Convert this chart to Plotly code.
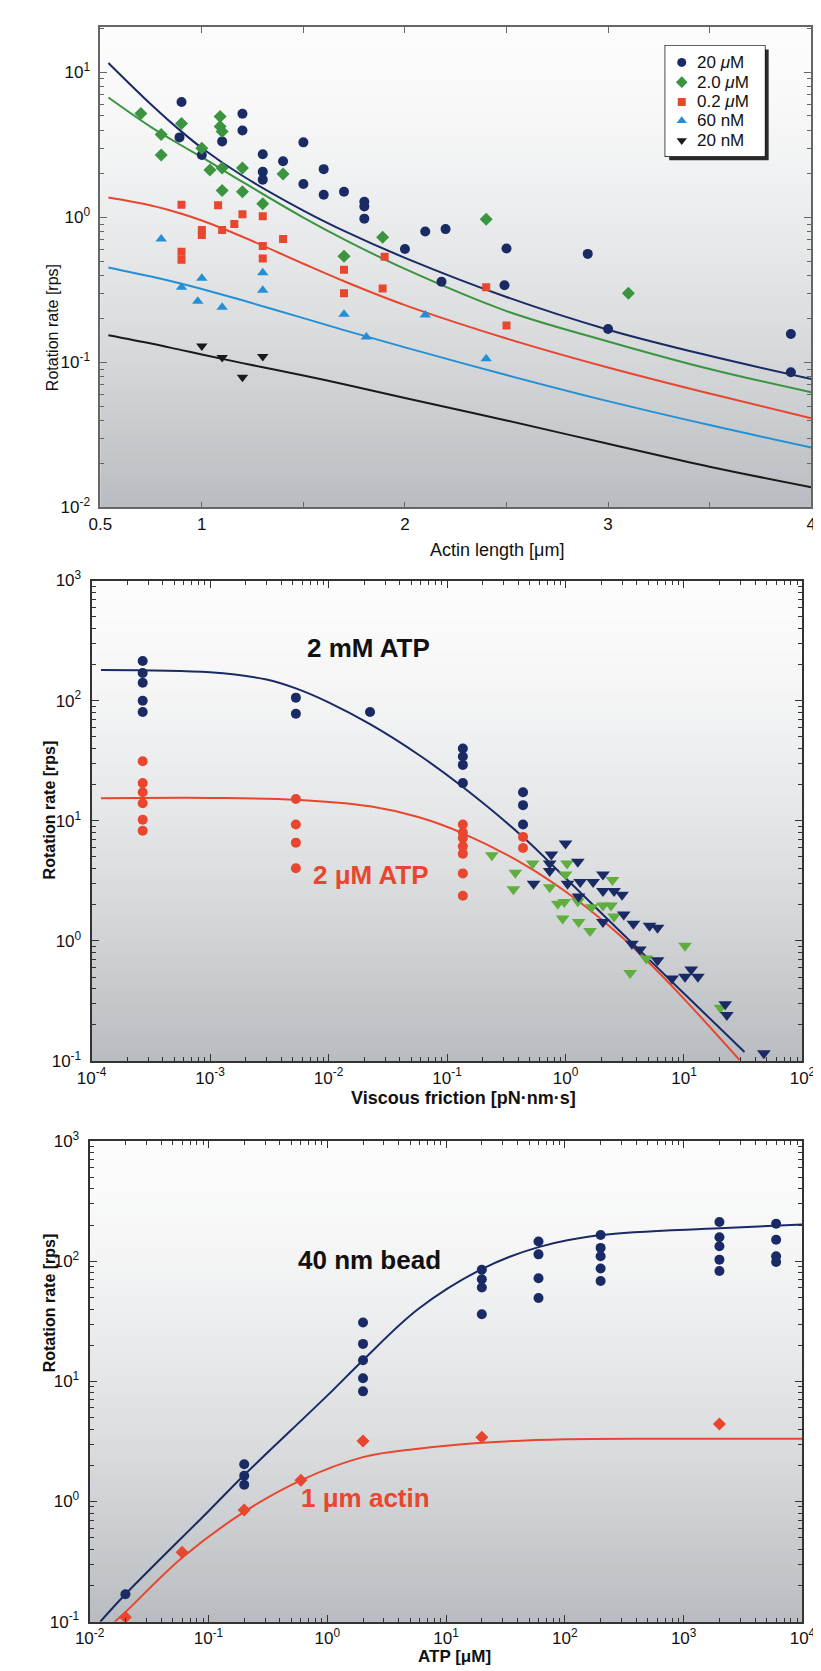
import plotly.graph_objects as go

# ---------------- Panel A: rotation rate vs actin length ----------------
len_20uM = [0.9, 0.89, 1.0, 1.1, 1.2, 1.2, 1.3, 1.3, 1.3, 1.4, 1.5, 1.5, 1.6, 1.6, 1.7, 1.8, 1.8, 1.8,
            2.0, 2.1, 2.2, 2.18, 2.5, 2.49, 2.9, 3.0, 3.9, 3.9]
rate_20uM = [6.25, 3.56, 2.69, 3.34, 5.18, 3.97, 2.72, 2.06, 1.82, 2.44, 3.29, 1.70, 2.15, 1.43, 1.50, 1.28, 1.19, 0.98,
             0.605, 0.80, 0.83, 0.36, 0.61, 0.34, 0.56, 0.17, 0.157, 0.0855]
len_2uM = [0.70, 0.80, 0.80, 0.90, 1.0, 1.04, 1.09, 1.09, 1.1, 1.1, 1.1, 1.2, 1.2, 1.3, 1.4, 1.7, 1.89, 2.4, 3.1]
rate_2uM = [5.2, 3.73, 2.69, 4.43, 3.0, 2.12, 4.95, 4.23, 3.91, 2.19, 1.53, 2.19, 1.50, 1.24, 1.99, 0.54, 0.73, 0.97, 0.30]
len_02uM = [0.9, 0.9, 0.9, 1.0, 1.0, 1.08, 1.1, 1.16, 1.2, 1.3, 1.3, 1.3, 1.4, 1.7, 1.7, 1.9, 1.89, 2.4, 2.5]
rate_02uM = [1.22, 0.58, 0.51, 0.82, 0.755, 1.21, 0.82, 0.90, 1.05, 1.02, 0.635, 0.52, 0.71, 0.435, 0.30, 0.535, 0.324, 0.33, 0.18]
len_60nM = [0.8, 0.9, 1.0, 0.98, 1.1, 1.3, 1.3, 1.7, 1.81, 2.1, 2.4]
rate_60nM = [0.71, 0.33, 0.38, 0.264, 0.24, 0.416, 0.314, 0.215, 0.15, 0.212, 0.106]
len_20nM = [1.0, 1.1, 1.3, 1.2]
rate_20nM = [0.13, 0.108, 0.11, 0.079]

fit_len = [0.54, 0.75, 0.9, 1.0, 1.2, 1.5, 1.7, 2.0, 2.5, 3.0, 3.5, 4.0]
fit_20uM = [11.59, 6.00, 3.90, 3.01, 1.936, 1.114, 0.807, 0.526, 0.2825, 0.1682, 0.1111, 0.0769]
fit_2uM = [6.70, 4.19, 3.13, 2.60, 1.757, 0.997, 0.706, 0.441, 0.226, 0.1396, 0.0901, 0.0623]
fit_02uM = [1.371, 1.209, 1.060, 0.951, 0.735, 0.479, 0.363, 0.2485, 0.1463, 0.0923, 0.0610, 0.0412]
fit_60nM = [0.452, 0.391, 0.349, 0.321, 0.268, 0.202, 0.167, 0.127, 0.0819, 0.0541, 0.0370, 0.0259]
fit_20nM = [0.154, 0.135, 0.1216, 0.1135, 0.0989, 0.0813, 0.0708, 0.0569, 0.0398, 0.0275, 0.0191, 0.0138]

legend_names = ["20 <i>μ</i>M", "2.0 <i>μ</i>M", "0.2 <i>μ</i>M", "60 nM", "20 nM"]
lenA_ticks = [0.5, 1, 1.5, 2, 2.5, 3, 3.5, 4]
lenA_labels = ["0.5", "1", "", "2", "", "3", "", "4"]

# ---------------- Panel B: rotation rate vs viscous friction ----------------
fric_2mM_beads = [2.7e-4] * 5 + [5.3e-3] * 2 + [0.0224] + [0.136] * 4 + [0.438] * 3
rate_2mM_beads = [214, 170, 141, 100, 80.6, 106, 77.8, 80.6, 40, 34.3, 29.2, 20.6, 17.3, 13.5, 9.33]
fric_2uM_beads = [2.7e-4] * 6 + [5.3e-3] * 4 + [0.136] * 7 + [0.438] * 2
rate_2uM_beads = [31.3, 20.6, 17.3, 14.0, 10.2, 8.28, 15.2, 9.33, 6.58, 4.03,
                  9.33, 8.0, 7.2, 6.13, 5.33, 3.65, 2.38, 7.35, 5.95]
fric_actin_green = [0.239, 0.377, 0.363, 0.528, 0.736, 1.03, 1.0, 0.86, 0.975, 0.946, 1.27, 1.29, 1.66, 1.61,
                    2.07, 2.42, 2.49, 2.57, 3.51, 4.81, 10.2, 20.3]
rate_actin_green = [5.18, 3.70, 2.70, 4.41, 2.80, 4.41, 3.57, 2.04, 2.11, 1.54, 2.14, 1.44, 1.91, 1.21,
                    1.97, 1.97, 3.22, 1.60, 0.541, 0.715, 0.912, 0.278]
fric_actin_navy = [1.0, 0.76, 0.735, 0.735, 0.538, 1.27, 1.04, 1.33, 1.71, 2.07, 2.07, 2.57, 3.0, 1.29, 3.10,
                   2.07, 3.74, 5.12, 5.98, 3.63, 4.24, 5.98, 7.93, 10.2, 11.5, 13.1, 22.3, 23.0, 47.2]
rate_actin_navy = [6.48, 5.25, 4.41, 3.83, 3.0, 4.57, 3.0, 3.10, 3.10, 3.57, 2.61, 2.61, 2.43, 2.35, 1.66,
                   1.44, 1.39, 1.34, 1.29, 0.946, 0.851, 0.69, 0.486, 0.504, 0.58, 0.504, 0.298, 0.242, 0.116]

fit_fric_2mM = [1.2e-4, 1e-3, 3e-3, 5.3e-3, 1e-2, 0.0224, 0.058, 0.136, 0.438, 1.0, 3.0, 10, 32.4]
fit_rate_2mM = [180, 172, 150, 126.5, 96.8, 63.7, 35.3, 19.1, 7.33, 3.34, 1.16, 0.366, 0.119]
fit_fric_2uM = [1.2e-4, 1e-3, 5.3e-3, 0.0224, 0.058, 0.136, 0.438, 1.0, 2.5, 5, 10, 29.5]
fit_rate_2uM = [15.4, 15.5, 15.0, 13.2, 10.7, 7.87, 4.39, 2.58, 1.26, 0.668, 0.33, 0.102]

# ---------------- Panel C: rotation rate vs ATP ----------------
atp_bead = [0.02, 0.2, 0.2, 0.2, 2, 2, 2, 2, 2, 20, 20, 20, 20, 60, 60, 60, 60,
            200, 200, 200, 200, 200, 2000, 2000, 2000, 2000, 2000, 6000, 6000, 6000, 6000]
rate_bead = [0.169, 2.04, 1.64, 1.38, 30.9, 20.5, 15.0, 10.6, 8.25, 85, 70.7, 60.3, 36.2, 146, 114, 72, 49.4,
             165, 129, 110, 86.8, 68.3, 212, 158, 133, 103, 82.8, 205, 151, 110, 98.4]
atp_actin = [0.02, 0.06, 0.2, 0.6, 2, 20, 2000]
rate_actin = [0.109, 0.378, 0.85, 1.50, 3.19, 3.42, 4.41]
fit_atp_bead = [0.0123, 0.02, 0.1, 0.2, 1.0, 2, 5.83, 20, 60, 200, 2000, 10000]
fit_rate_bead = [0.1, 0.169, 0.83, 1.66, 7.6, 15, 40, 86, 131, 165, 188, 202]
fit_atp_actin = [0.0163, 0.02, 0.06, 0.2, 0.6, 2, 5.83, 20, 100, 1000, 10000]
fit_rate_actin = [0.1, 0.12, 0.34, 0.82, 1.50, 2.34, 2.75, 3.08, 3.30, 3.33, 3.33]

# ---------------- styling ----------------
W, H = 821, 1671
NAVY = "#1a2a64"
GREEN = "#3a9440"
LGREEN = "#5fae3e"
RED = "#e8462e"
CYAN = "#2390d6"
BLACK = "#1a1a1a"
FONT = "Liberation Sans, Arial, Helvetica, sans-serif"


def fx(p):
    return p / W


def fy(p):
    return 1 - p / H


fig = go.Figure()

# Panel A traces
pointsA = [
    (len_20uM, rate_20uM, NAVY, "circle", 10),
    (len_2uM, rate_2uM, GREEN, "diamond", 10),
    (len_02uM, rate_02uM, RED, "square", 8),
    (len_60nM, rate_60nM, CYAN, "triangle-up", 10),
    (len_20nM, rate_20nM, BLACK, "triangle-down", 10),
]
fitsA = [fit_20uM, fit_2uM, fit_02uM, fit_60nM, fit_20nM]
for (xs, ys, col, sym, sz), fit in zip(pointsA, fitsA):
    fig.add_trace(go.Scatter(x=fit_len, y=fit, mode="lines", line=dict(color=col, width=2, shape="spline"),
                             showlegend=False, xaxis="x", yaxis="y", hoverinfo="skip"))
for (xs, ys, col, sym, sz), name in zip(pointsA, legend_names):
    fig.add_trace(go.Scatter(x=xs, y=ys, mode="markers", name=name, showlegend=False,
                             marker=dict(color=col, symbol=sym, size=sz, line=dict(width=0)),
                             xaxis="x", yaxis="y"))

# Panel A legend (drawn on its own small hidden axis, box 103 x 112 px)
LEG_L, LEG_T, LEG_W, LEG_H = 665, 26, 103, 112
leg_rows = [17, 37, 57, 76, 96]
for (xs, ys, col, sym, sz), row in zip(pointsA, leg_rows):
    fig.add_trace(go.Scatter(x=[17], y=[row], mode="markers", showlegend=False, hoverinfo="skip",
                             marker=dict(color=col, symbol=sym, size=9 if sym != "square" else 8),
                             xaxis="x4", yaxis="y4"))

# Panel B traces
fig.add_trace(go.Scatter(x=fit_fric_2mM, y=fit_rate_2mM, mode="lines", line=dict(color=NAVY, width=2, shape="spline"),
                         showlegend=False, xaxis="x2", yaxis="y2"))
fig.add_trace(go.Scatter(x=fit_fric_2uM, y=fit_rate_2uM, mode="lines", line=dict(color=RED, width=2, shape="spline"),
                         showlegend=False, xaxis="x2", yaxis="y2"))
fig.add_trace(go.Scatter(x=fric_actin_green, y=rate_actin_green, mode="markers",
                         marker=dict(color=LGREEN, symbol="triangle-down", size=12), showlegend=False,
                         xaxis="x2", yaxis="y2"))
fig.add_trace(go.Scatter(x=fric_actin_navy, y=rate_actin_navy, mode="markers",
                         marker=dict(color=NAVY, symbol="triangle-down", size=12), showlegend=False,
                         xaxis="x2", yaxis="y2"))
fig.add_trace(go.Scatter(x=fric_2mM_beads, y=rate_2mM_beads, mode="markers",
                         marker=dict(color=NAVY, symbol="circle", size=10), showlegend=False,
                         xaxis="x2", yaxis="y2"))
fig.add_trace(go.Scatter(x=fric_2uM_beads, y=rate_2uM_beads, mode="markers",
                         marker=dict(color=RED, symbol="circle", size=10), showlegend=False,
                         xaxis="x2", yaxis="y2"))

# Panel C traces
fig.add_trace(go.Scatter(x=fit_atp_bead, y=fit_rate_bead, mode="lines", line=dict(color=NAVY, width=2, shape="spline"),
                         showlegend=False, xaxis="x3", yaxis="y3"))
fig.add_trace(go.Scatter(x=fit_atp_actin, y=fit_rate_actin, mode="lines", line=dict(color=RED, width=2, shape="spline"),
                         showlegend=False, xaxis="x3", yaxis="y3"))
fig.add_trace(go.Scatter(x=atp_bead, y=rate_bead, mode="markers",
                         marker=dict(color=NAVY, symbol="circle", size=10), showlegend=False,
                         xaxis="x3", yaxis="y3"))
fig.add_trace(go.Scatter(x=atp_actin, y=rate_actin, mode="markers",
                         marker=dict(color=RED, symbol="diamond", size=10), showlegend=False,
                         xaxis="x3", yaxis="y3"))


def minor_vals(e0, e1):
    return [m * 10.0 ** e for e in range(e0, e1) for m in range(2, 10)]


def log_labels(e0, e1):
    vals = [10.0 ** e for e in range(e0, e1 + 1)]
    txt = ["10<sup>%d</sup>" % e for e in range(e0, e1 + 1)]
    return vals, txt


axis_common = dict(showgrid=False, zeroline=False, showline=True, mirror="allticks", ticks="inside",
                   tickfont=dict(family=FONT, size=17, color="#111"))

yA_vals, yA_txt = log_labels(-2, 1)
x2_vals, x2_txt = log_labels(-4, 2)
y2_vals, y2_txt = log_labels(-1, 3)
x3_vals, x3_txt = log_labels(-2, 4)
y3_vals, y3_txt = log_labels(-1, 3)

fig.update_layout(
    width=W, height=H, margin=dict(l=0, r=0, t=0, b=0),
    paper_bgcolor="white", plot_bgcolor="white", showlegend=False,
    font=dict(family=FONT, size=16, color="#111"),
    xaxis=dict(domain=[fx(80), fx(816)], anchor="y", range=[0.5, 4], tickmode="array",
               tickvals=lenA_ticks, ticktext=lenA_labels, linecolor="#666", linewidth=1.5,
               ticklen=6, tickcolor="#666", **axis_common),
    yaxis=dict(domain=[fy(494), fy(7)], anchor="x", type="log", range=[-2, 1.313], tickmode="array",
               tickvals=yA_vals, ticktext=yA_txt, linecolor="#666", linewidth=1.5, ticklen=7,
               tickcolor="#666", ticklabelstandoff=5,
               minor=dict(ticks="inside", ticklen=4, tickcolor="#666", tickvals=minor_vals(-2, 2)),
               **axis_common),
    xaxis2=dict(domain=[fx(71), fx(807)], anchor="y2", type="log", range=[-4, 2], tickmode="array",
                tickvals=x2_vals, ticktext=x2_txt, linecolor="#333", linewidth=2, ticklen=7, tickcolor="#333",
                minor=dict(ticks="inside", ticklen=4, tickcolor="#333", tickvals=minor_vals(-4, 2)),
                **axis_common),
    yaxis2=dict(domain=[fy(1055), fy(568)], anchor="x2", type="log", range=[-1, 3], tickmode="array",
                tickvals=y2_vals, ticktext=y2_txt, linecolor="#333", linewidth=2, ticklen=7, tickcolor="#333",
                ticklabelstandoff=5,
                minor=dict(ticks="inside", ticklen=4, tickcolor="#333", tickvals=minor_vals(-1, 3)),
                **axis_common),
    xaxis3=dict(domain=[fx(69), fx(807)], anchor="y3", type="log", range=[-2, 4], tickmode="array",
                tickvals=x3_vals, ticktext=x3_txt, linecolor="#333", linewidth=2, ticklen=7, tickcolor="#333",
                ticklabelstandoff=0,
                minor=dict(ticks="inside", ticklen=4, tickcolor="#333", tickvals=minor_vals(-2, 4)),
                **axis_common),
    yaxis3=dict(domain=[fy(1623), fy(1136)], anchor="x3", type="log", range=[-1, 3], tickmode="array",
                tickvals=y3_vals, ticktext=y3_txt, linecolor="#333", linewidth=2, ticklen=7, tickcolor="#333",
                ticklabelstandoff=5,
                minor=dict(ticks="inside", ticklen=4, tickcolor="#333", tickvals=minor_vals(-1, 3)),
                **axis_common),
    xaxis4=dict(domain=[fx(LEG_L), fx(LEG_L + LEG_W)], anchor="y4", range=[0, LEG_W], visible=False,
                fixedrange=True),
    yaxis4=dict(domain=[fy(LEG_T + LEG_H), fy(LEG_T)], anchor="x4", range=[LEG_H, 0], visible=False,
                fixedrange=True),
)

# gradient backgrounds
shapes = []
N = 60
top_c = (252, 252, 252)
bot_c = (184, 188, 192)
for xr, yr in [("x domain", "y domain"), ("x2 domain", "y2 domain"), ("x3 domain", "y3 domain")]:
    for k in range(N):
        t = (k + 0.5) / N
        f = t ** 1.5
        c = tuple(int(round(top_c[i] + (bot_c[i] - top_c[i]) * f)) for i in range(3))
        shapes.append(dict(type="rect", xref=xr, yref=yr, x0=0, x1=1, y0=1 - (k + 1) / N - 0.002,
                           y1=1 - k / N, fillcolor="rgb(%d,%d,%d)" % c, line=dict(width=0), layer="below"))
# legend shadow and box
sx, sy = 4.0 / LEG_W, 4.0 / LEG_H
shapes.append(dict(type="rect", xref="x4 domain", yref="y4 domain", x0=sx, x1=1 + sx, y0=-sy, y1=1 - sy,
                   fillcolor="#2a2a2a", line=dict(width=0), layer="below"))
shapes.append(dict(type="rect", xref="x4 domain", yref="y4 domain", x0=0, x1=1, y0=0, y1=1,
                   fillcolor="white", line=dict(color="#111", width=1.5), layer="below"))
fig.update_layout(shapes=shapes)

ann = []
# legend texts
for name, row in zip(legend_names, leg_rows):
    ann.append(dict(text=name, x=fx(LEG_L + 31), y=fy(LEG_T + row), xref="paper", yref="paper",
                    xanchor="left", yanchor="middle", showarrow=False,
                    font=dict(family=FONT, size=17, color="#111")))
# axis titles
ann.append(dict(text="Rotation rate [rps]", x=fx(19), y=fy(245), xref="paper", yref="paper", textangle=-90,
                showarrow=False, font=dict(family=FONT, size=16, color="#111")))
ann.append(dict(text="Actin length [μm]", x=fx(491), y=fy(525), xref="paper", yref="paper",
                showarrow=False, font=dict(family=FONT, size=18, color="#111")))
ann.append(dict(text="<b>Rotation rate [rps]</b>", x=fx(17), y=fy(800), xref="paper", yref="paper", textangle=-90,
                showarrow=False, font=dict(family=FONT, size=16, color="#111")))
ann.append(dict(text="<b>Viscous friction [pN·nm·s]</b>", x=fx(456), y=fy(1092), xref="paper", yref="paper",
                showarrow=False, font=dict(family=FONT, size=18, color="#111")))
ann.append(dict(text="<b>Rotation rate [rps]</b>", x=fx(17), y=fy(1372), xref="paper", yref="paper", textangle=-90,
                showarrow=False, font=dict(family=FONT, size=16, color="#111")))
ann.append(dict(text="<b>ATP [μM]</b>", x=fx(447), y=fy(1670), xref="paper", yref="paper", yanchor="bottom",
                yshift=-0, showarrow=False, font=dict(family=FONT, size=17, color="#111")))
# in-plot labels
ann.append(dict(text="<b>2 mM ATP</b>", x=fx(292), y=fy(636), xref="paper", yref="paper", xanchor="left",
                showarrow=False, font=dict(family=FONT, size=26, color="#111")))
ann.append(dict(text="<b>2 μM ATP</b>", x=fx(298), y=fy(866), xref="paper", yref="paper", xanchor="left",
                showarrow=False, font=dict(family=FONT, size=26, color=RED)))
ann.append(dict(text="<b>40 nm bead</b>", x=fx(283), y=fy(1274), xref="paper", yref="paper", xanchor="left",
                showarrow=False, font=dict(family=FONT, size=26, color="#111")))
ann.append(dict(text="<b>1 μm actin</b>", x=fx(286), y=fy(1515), xref="paper", yref="paper", xanchor="left",
                showarrow=False, font=dict(family=FONT, size=26, color=RED)))
fig.update_layout(annotations=ann)

fig.write_html("out.html")
